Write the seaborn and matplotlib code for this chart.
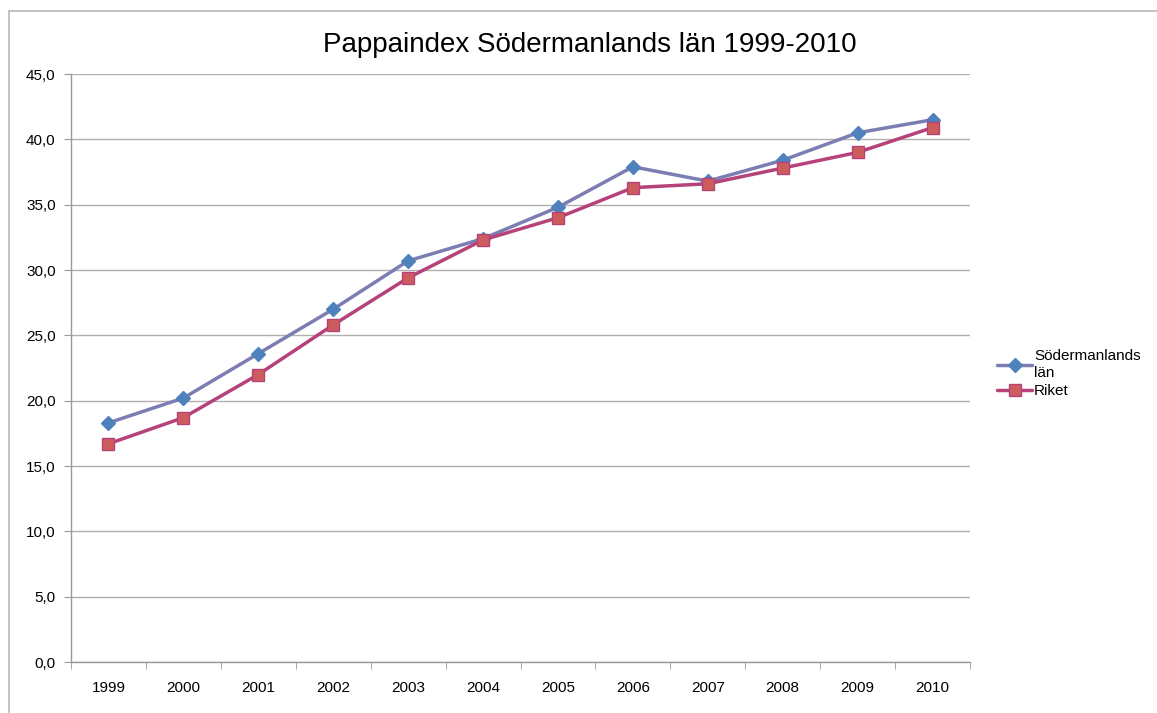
import pandas as pd
import numpy as np
import matplotlib.pyplot as plt
import seaborn as sns
from matplotlib.patches import Rectangle

# data
years = ['1999', '2000', '2001', '2002', '2003', '2004',
         '2005', '2006', '2007', '2008', '2009', '2010']
sodermanland = [18.3, 20.2, 23.6, 27.0, 30.7, 32.4, 34.8, 37.9, 36.8, 38.4, 40.5, 41.5]
riket = [16.7, 18.7, 22.0, 25.8, 29.4, 32.3, 34.0, 36.3, 36.6, 37.8, 39.0, 40.9]

df = pd.DataFrame({'pos': np.arange(len(years)), 'year': years,
                   'Södermanlands\nlän': sodermanland, 'Riket': riket})
long_df = df.melt(id_vars=['pos', 'year'], var_name='serie', value_name='index')

sns.set_style('white')
plt.rcParams['font.family'] = ['Liberation Sans', 'DejaVu Sans']
plt.rcParams['text.color'] = 'black'
plt.rcParams['xtick.labelcolor'] = 'black'
plt.rcParams['ytick.labelcolor'] = 'black'

fig = plt.figure(figsize=(11.57, 7.13), dpi=100)
W, H = 1157, 713
ax = fig.add_axes([71 / W, 1 - 662 / H, (970 - 71) / W, (662 - 74) / H])

# border around the chart area
fig.patches.append(Rectangle((9 / W, -0.01), 1.0, 1 - 11 / H + 0.01,
                             transform=fig.transFigure, fill=False,
                             edgecolor='#b8b8b8', linewidth=1.2))

line_colors = {'Södermanlands\nlän': '#7b7db3', 'Riket': '#b5437a'}
face_colors = {'Södermanlands\nlän': '#4f81bd', 'Riket': '#cd5c5c'}
markers = {'Södermanlands\nlän': 'D', 'Riket': 's'}
sizes = {'Södermanlands\nlän': 7, 'Riket': 9}

for name in ['Södermanlands\nlän', 'Riket']:
    sub = long_df[long_df['serie'] == name]
    sns.lineplot(data=sub, x='pos', y='index', ax=ax, color=line_colors[name],
                 linewidth=2.5, marker=markers[name], markersize=sizes[name],
                 markerfacecolor=face_colors[name],
                 markeredgecolor=line_colors[name] if name == 'Riket' else face_colors[name],
                 markeredgewidth=1, label=name)

ax.set_xlim(-0.5, len(years) - 0.5)
ax.set_ylim(0, 45)
ax.set_yticks(np.arange(0, 46, 5))
ax.set_yticklabels([f'{v:.1f}'.replace('.', ',') for v in np.arange(0, 46, 5)])
ax.set_xticks(np.arange(len(years)))
ax.set_xticklabels(years)
ax.set_xticks(np.arange(len(years) + 1) - 0.5, minor=True)
ax.tick_params(axis='x', which='major', length=0, pad=14, labelsize=11)
ax.tick_params(axis='x', which='minor', length=5, color='#999999', direction='out', bottom=True)
ax.tick_params(axis='y', length=5, color='#999999', direction='out', left=True, pad=6, labelsize=11)

ax.grid(axis='y', color='#b0b0b0', linewidth=1)
ax.set_axisbelow(True)
for side in ['top', 'right']:
    ax.spines[side].set_visible(False)
for side in ['left', 'bottom']:
    ax.spines[side].set_color('#999999')
    ax.spines[side].set_linewidth(1)

ax.set_xlabel('')
ax.set_ylabel('')

fig.text(590 / W, 1 - 45 / H, 'Pappaindex Södermanlands län 1999-2010',
         ha='center', va='center', fontsize=20)

ax.legend(loc='center left', bbox_to_anchor=(1.015, 0.49), frameon=False,
          fontsize=11, handlelength=2.3, handletextpad=0.1, labelspacing=0.3)

fig.savefig('out.png', dpi=100)
